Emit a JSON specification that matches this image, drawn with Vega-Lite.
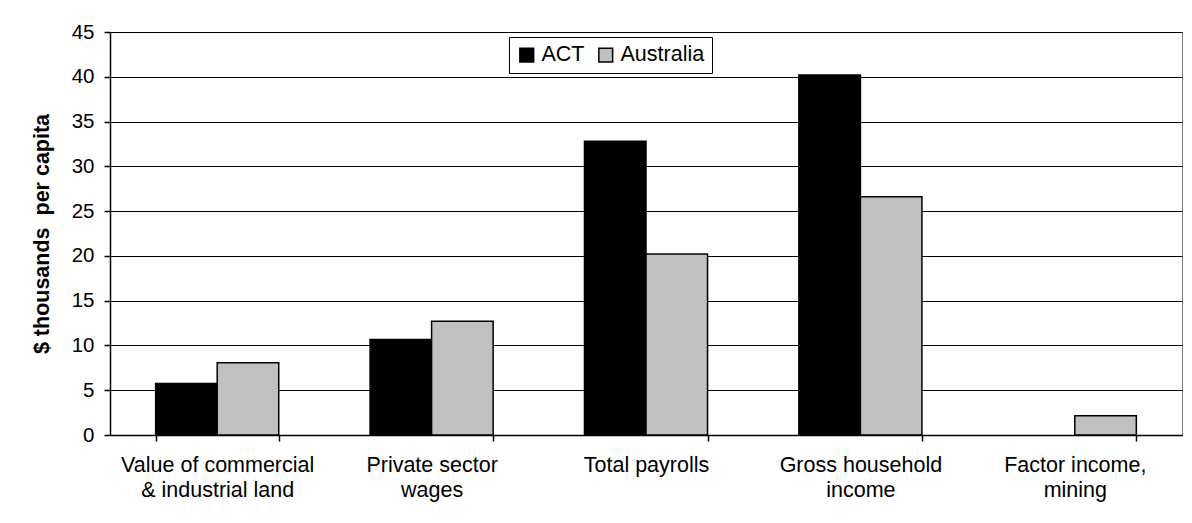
{
  "$schema": "https://vega.github.io/schema/vega-lite/v6.json",
  "width": 1072,
  "height": 403,
  "autosize": {"type": "none"},
  "padding": {"left": 110, "top": 32, "right": 10, "bottom": 88},
  "background": "white",
  "config": {
    "font": "Liberation Sans",
    "view": {"stroke": "#808080", "strokeWidth": 1},
    "axis": {"labelFont": "Liberation Sans", "titleFont": "Liberation Sans", "labelColor": "black", "titleColor": "black", "domainColor": "black", "tickColor": "black", "gridColor": "black", "gridWidth": 1, "domainWidth": 1.5, "tickWidth": 1.5}
  },
  "data": {
    "values": [
      {"category": "Value of commercial & industrial land", "region": "ACT", "value": 5.76},
      {"category": "Value of commercial & industrial land", "region": "Australia", "value": 8.06},
      {"category": "Private sector wages", "region": "ACT", "value": 10.67},
      {"category": "Private sector wages", "region": "Australia", "value": 12.7},
      {"category": "Total payrolls", "region": "ACT", "value": 32.8},
      {"category": "Total payrolls", "region": "Australia", "value": 20.2},
      {"category": "Gross household income", "region": "ACT", "value": 40.2},
      {"category": "Gross household income", "region": "Australia", "value": 26.6},
      {"category": "Factor income, mining", "region": "ACT", "value": 0},
      {"category": "Factor income, mining", "region": "Australia", "value": 2.15}
    ]
  },
  "mark": {"type": "bar", "stroke": "black", "strokeWidth": 1.5},
  "encoding": {
    "x": {
      "field": "category",
      "type": "nominal",
      "sort": null,
      "scale": {"paddingInner": 0.426, "paddingOuter": 0.213},
      "axis": {
        "title": null,
        "labelAngle": 0,
        "labelFontSize": 21.5,
        "labelLimit": 400,
        "labelPadding": 13,
        "labelLineHeight": 25,
        "labelBaseline": "top",
        "tickBand": "extent",
        "tickSize": 6,
        "grid": false,
        "labelExpr": "datum.label == 'Value of commercial & industrial land' ? ['Value of commercial', '& industrial land'] : datum.label == 'Private sector wages' ? ['Private sector', 'wages'] : datum.label == 'Gross household income' ? ['Gross household', 'income'] : datum.label == 'Factor income, mining' ? ['Factor income,', 'mining'] : datum.label"
      }
    },
    "xOffset": {"field": "region", "type": "nominal", "scale": {"paddingInner": 0, "paddingOuter": 0}},
    "y": {
      "field": "value",
      "type": "quantitative",
      "scale": {"domain": [0, 45], "nice": false},
      "axis": {
        "title": "$ thousands\u00a0 per capita",
        "titleFontSize": 21.5,
        "titleFontWeight": "bold",
        "titlePadding": 18,
        "labelFontSize": 20.5,
        "labelPadding": 10,
        "tickSize": 6,
        "values": [0, 5, 10, 15, 20, 25, 30, 35, 40, 45],
        "grid": true
      }
    },
    "strokeOpacity": {"condition": {"test": "datum.value == 0", "value": 0}, "value": 1},
    "color": {
      "field": "region",
      "type": "nominal",
      "scale": {"domain": ["ACT", "Australia"], "range": ["black", "#c0c0c0"]},
      "legend": {
        "title": null,
        "orient": "none",
        "legendX": 399,
        "legendY": 5,
        "direction": "horizontal",
        "strokeColor": "black",
        "padding": 7,
        "fillColor": "white",
        "symbolType": "square",
        "symbolSize": 190,
        "symbolStrokeColor": "black",
        "symbolStrokeWidth": 1.5,
        "labelFontSize": 21.5,
        "labelFont": "Liberation Sans",
        "labelColor": "black",
        "labelOffset": 4,
        "columnPadding": 10
      }
    }
  }
}
